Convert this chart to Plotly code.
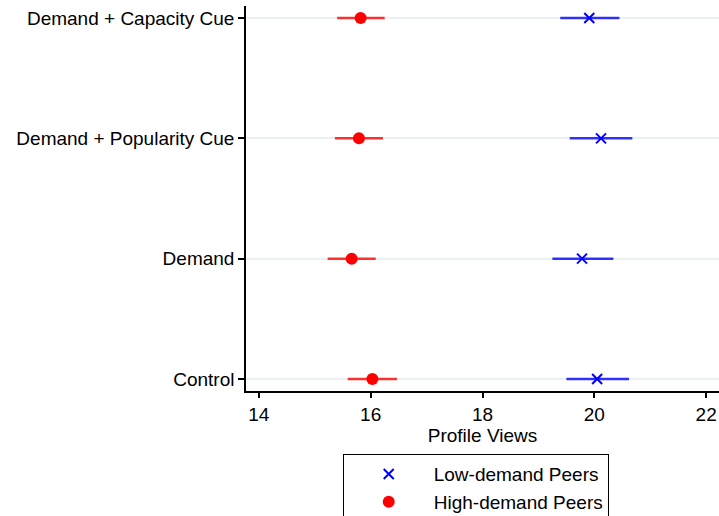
import plotly.graph_objects as go

categories = ["Control", "Demand", "Demand + Popularity Cue", "Demand + Capacity Cue"]

low_mean = [20.05, 19.78, 20.12, 19.91]
low_lo = [19.50, 19.25, 19.56, 19.39]
low_hi = [20.62, 20.34, 20.68, 20.45]

high_mean = [16.03, 15.66, 15.79, 15.82]
high_lo = [15.59, 15.23, 15.36, 15.40]
high_hi = [16.47, 16.09, 16.22, 16.25]

x_ticks = [14, 16, 18, 20, 22]

FONT = "Liberation Sans, Arial, Helvetica, sans-serif"

fig = go.Figure()

fig.add_trace(go.Scatter(
    x=low_mean, y=categories, mode="markers", name="Low-demand Peers",
    marker=dict(symbol="x-thin", size=10, color="#0000FF",
                line=dict(color="#0000FF", width=2)),
    error_x=dict(type="data", symmetric=False,
                 array=[h - m for h, m in zip(low_hi, low_mean)],
                 arrayminus=[m - l for m, l in zip(low_mean, low_lo)],
                 color="rgba(0,0,255,0.8)", thickness=2.5, width=0),
))
fig.add_trace(go.Scatter(
    x=high_mean, y=categories, mode="markers", name="High-demand Peers",
    marker=dict(symbol="circle", size=12, color="#FF0000"),
    error_x=dict(type="data", symmetric=False,
                 array=[h - m for h, m in zip(high_hi, high_mean)],
                 arrayminus=[m - l for m, l in zip(high_mean, high_lo)],
                 color="rgba(255,0,0,0.8)", thickness=2.5, width=0),
))

fig.update_layout(
    width=719, height=516,
    margin=dict(l=246, r=0, t=6, b=125, autoexpand=False),
    paper_bgcolor="white", plot_bgcolor="white",
    font=dict(family=FONT, size=19, color="black"),
    showlegend=True,
    legend=dict(
        x=0.2045, y=-0.164, xanchor="left", yanchor="top",
        bordercolor="black", borderwidth=1, bgcolor="white",
        font=dict(family=FONT, size=19, color="black"),
        itemwidth=80,
    ),
)
fig.update_xaxes(
    range=[13.77, 22.23], tickvals=x_ticks, showgrid=False, zeroline=False,
    showline=True, linecolor="black", linewidth=1.5, automargin=False,
    ticks="outside", ticklen=5, tickcolor="black", tickwidth=1.5,
    title=dict(text="Profile Views", font=dict(size=19), standoff=0),
)
fig.update_yaxes(
    type="category", categoryorder="array", categoryarray=categories,
    range=[-0.1, 3.1], showgrid=True, gridcolor="#EAF1F3", gridwidth=1.5,
    zeroline=False, showline=True, linecolor="black", linewidth=1.5,
    automargin=False,
    ticks="outside", ticklen=6, tickcolor="black", tickwidth=1.5,
)

fig.write_html(
    "out.html",
    config={"displayModeBar": False},
    post_script="document.body.style.margin='0';document.body.style.overflow='hidden';",
)
